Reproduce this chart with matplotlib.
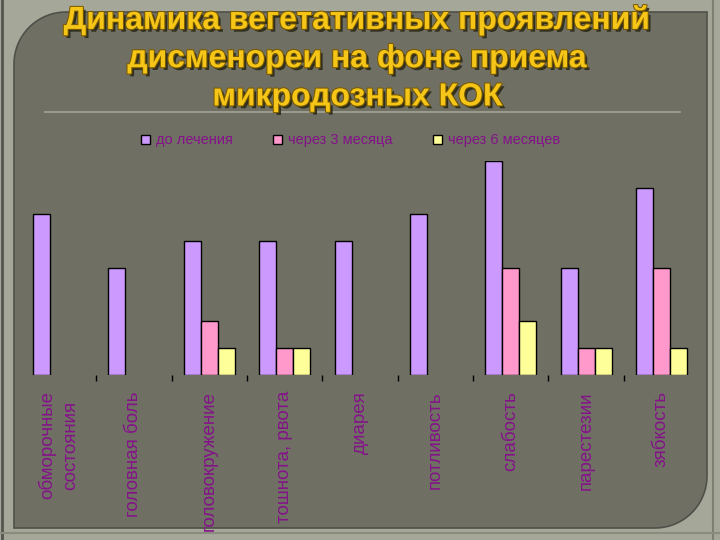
import numpy as np
import matplotlib
matplotlib.use("Agg")
import matplotlib.pyplot as plt
import matplotlib.patheffects as pe
from matplotlib.patches import Polygon, Patch

plt.rcParams['font.family'] = ['Liberation Sans', 'DejaVu Sans']

# --- Daten ---
kategorien = ['обморочные\nсостояния', 'головная боль', 'головокружение', 'тошнота, рвота',
              'диарея', 'потливость', 'слабость', 'парестезии', 'зябкость']
serien = ['до лечения', 'через 3 месяца', 'через 6 месяцев']
do_lecheniya = [6, 4, 5, 5, 5, 6, 8, 4, 7]
cherez_3 = [0, 0, 2, 1, 0, 0, 4, 1, 4]
cherez_6 = [0, 0, 1, 1, 0, 0, 2, 1, 1]
farben = ['#CC99FF', '#FF99CC', '#FFFF99']
titel = 'Динамика вегетативных проявлений\nдисменореи на фоне приема\nмикродозных КОК'

fig = plt.figure(figsize=(7.2, 5.4), dpi=100)
fig.patch.set_facecolor('#a5a799')

# Hintergrund-Folie (Pixelkoordinaten)
bg = fig.add_axes([0, 0, 1, 1])
bg.set_xlim(0, 720)
bg.set_ylim(540, 0)
bg.axis('off')

l, t, r, b, rad = 14, 12, 707, 528, 52
w = np.linspace(0, np.pi / 2, 20)
pts = [(l + rad, t), (r, t), (r, b - rad)]
pts += list(zip(r - rad + rad * np.cos(w), b - rad + rad * np.sin(w)))
pts += [(r - rad, b), (l, b), (l, t + rad)]
w2 = np.linspace(np.pi, 1.5 * np.pi, 20)
pts += list(zip(l + rad + rad * np.cos(w2), t + rad + rad * np.sin(w2)))
panel = Polygon(pts, closed=True, facecolor='#6f6f63', edgecolor='#50504a', linewidth=1.2)
bg.add_patch(panel)
bg.plot([2, 2], [0, 540], color='#555550', lw=2)
bg.plot([713, 713], [0, 540], color='#7d7f72', lw=1.5)
bg.plot([0, 720], [533, 533], color='#8a8c7e', lw=1.5)
bg.plot([45, 680], [112, 112], color='#a3a595', lw=1.2)

fig.text(0.497, 0.99, titel, ha='center', va='top', fontsize=23, fontweight='bold',
         color='#F5C518', linespacing=1.36,
         path_effects=[pe.SimplePatchShadow(offset=(2, -2), shadow_rgbFace='#2b2a18', alpha=0.9),
                       pe.withStroke(linewidth=1.5, foreground='#7a5a00')])

# --- Diagramm ---
ax = fig.add_axes([0.029, 0.3056, 0.942, 0.3963])
ax.patch.set_alpha(0)
x = np.arange(len(kategorien))
bw = 0.225
for i, (werte, farbe, name) in enumerate(zip([do_lecheniya, cherez_3, cherez_6], farben, serien)):
    werte = np.array(werte)
    da = werte > 0
    ax.bar(x[da] + (i - 1) * bw, werte[da], bw, color=farbe, edgecolor='black', linewidth=1, label=name)

ax.set_xlim(-0.5, len(kategorien) - 0.5)
ax.set_ylim(0, 8)
for s in ax.spines.values():
    s.set_visible(False)
ax.set_yticks([])
ax.set_xticks(np.arange(0.5, len(kategorien) - 1, 1))
ax.set_xticklabels([])
ax.tick_params(axis='x', length=4, width=1, color='black', direction='out', pad=0)

for xi, name in zip(x, kategorien):
    ax.text(xi, -0.6, name, rotation=90, ha='center', va='top', multialignment='center',
            fontsize=13.5, color='#85128a', linespacing=1.5)

handles = [Patch(facecolor=f, edgecolor='black', linewidth=1) for f in farben]
fig.legend(handles, serien, loc='center', bbox_to_anchor=(0.487, 0.74), ncol=3, frameon=False,
           fontsize=10.5, labelcolor='#85128a', handlelength=0.6, handleheight=0.6,
           handletextpad=0.4, columnspacing=2.8)

fig.savefig('out.png', dpi=100, facecolor=fig.get_facecolor())
